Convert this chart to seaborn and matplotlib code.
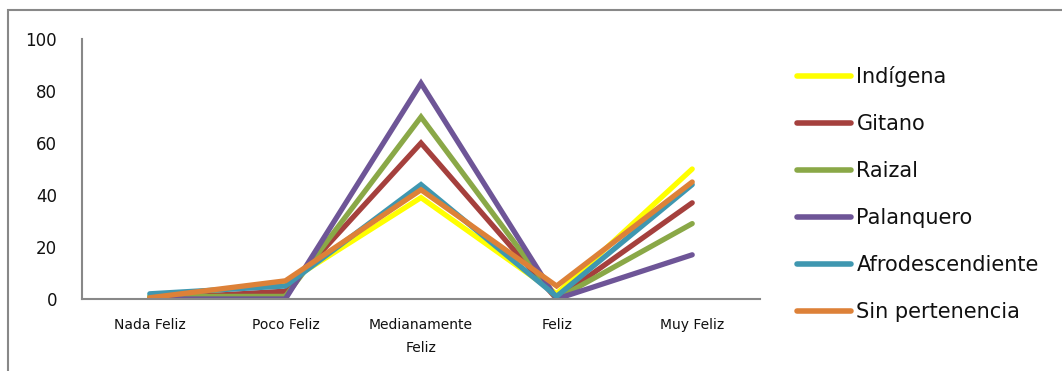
import numpy as np
import pandas as pd
import matplotlib.pyplot as plt
import seaborn as sns
from matplotlib.patches import Rectangle
from matplotlib.lines import Line2D

# Categories and series values (percent)
categories = ["Nada Feliz", "Poco Feliz", "Medianamente\nFeliz", "Feliz", "Muy Feliz"]
indigena = [1, 6, 39, 2, 50]
gitano = [0, 3, 60, 0, 37]
raizal = [1, 1, 70, 0, 29]
palanquero = [0, 0, 83, 0, 17]
afro = [2, 5, 44, 1, 44]
sin_pertenencia = [0.5, 7, 42, 5, 45]

series_names = ["Indígena", "Gitano", "Raizal", "Palanquero", "Afrodescendiente", "Sin pertenencia"]
series_values = [indigena, gitano, raizal, palanquero, afro, sin_pertenencia]
colors = ["#FFFF00", "#A5403D", "#8AA847", "#6E5597", "#3F97B0", "#DD8138"]

rows = []
for name, vals in zip(series_names, series_values):
    for i, v in enumerate(vals):
        rows.append({"pos": i, "valor": v, "grupo": name})
df = pd.DataFrame(rows)

sns.set_style("white")
plt.rcParams['font.family'] = ['DejaVu Sans']

fig = plt.figure(figsize=(10.62, 3.71), dpi=100)
ax = fig.add_axes([82 / 1062, 1 - 299 / 371, 678 / 1062, 260 / 371])

sns.lineplot(data=df, x="pos", y="valor", hue="grupo", hue_order=series_names,
             palette=colors, linewidth=3.8, sort=False, ax=ax, legend=False,
             solid_capstyle="round", solid_joinstyle="miter")

ax.set_xlim(-0.5, 4.5)
ax.set_ylim(0, 100)
ax.set_yticks([0, 20, 40, 60, 80, 100])
ax.set_xticks(np.arange(-0.5, 5, 1))
ax.set_xticklabels([])
ax.set_xticks(np.arange(5), minor=True)
ax.set_xticklabels(categories, minor=True, fontsize=10, color="#111111", linespacing=1.75)
ax.tick_params(axis="x", which="minor", length=0, pad=14)
ax.tick_params(axis="x", which="major", length=6, width=1.3, color="#888888", direction="out")
ax.tick_params(axis="y", length=6, width=1.3, color="#888888", labelsize=12, labelcolor="#111111", pad=12)
ax.set_xlabel("")
ax.set_ylabel("")
for s in ["top", "right"]:
    ax.spines[s].set_visible(False)
for s in ["left", "bottom"]:
    ax.spines[s].set_color("#888888")
    ax.spines[s].set_linewidth(1.5)

# Legend
handles = [Line2D([0], [0], color=c, linewidth=4, solid_capstyle="round") for c in colors]
leg = fig.legend(handles, series_names, loc="center left", bbox_to_anchor=(797 / 1062, 1 - 194 / 371),
                 frameon=False, fontsize=15, handlelength=2.6, handletextpad=0.25,
                 labelspacing=1.3, borderaxespad=0, borderpad=0)
for t in leg.get_texts():
    t.set_color("#111111")

# Chart area border
fig.patches.append(Rectangle((8 / 1062, -0.1), 1.2, 1 - 10 / 371 + 0.1, transform=fig.transFigure,
                             fill=False, edgecolor="#888888", linewidth=1.5))

fig.savefig("out.png", dpi=100)
